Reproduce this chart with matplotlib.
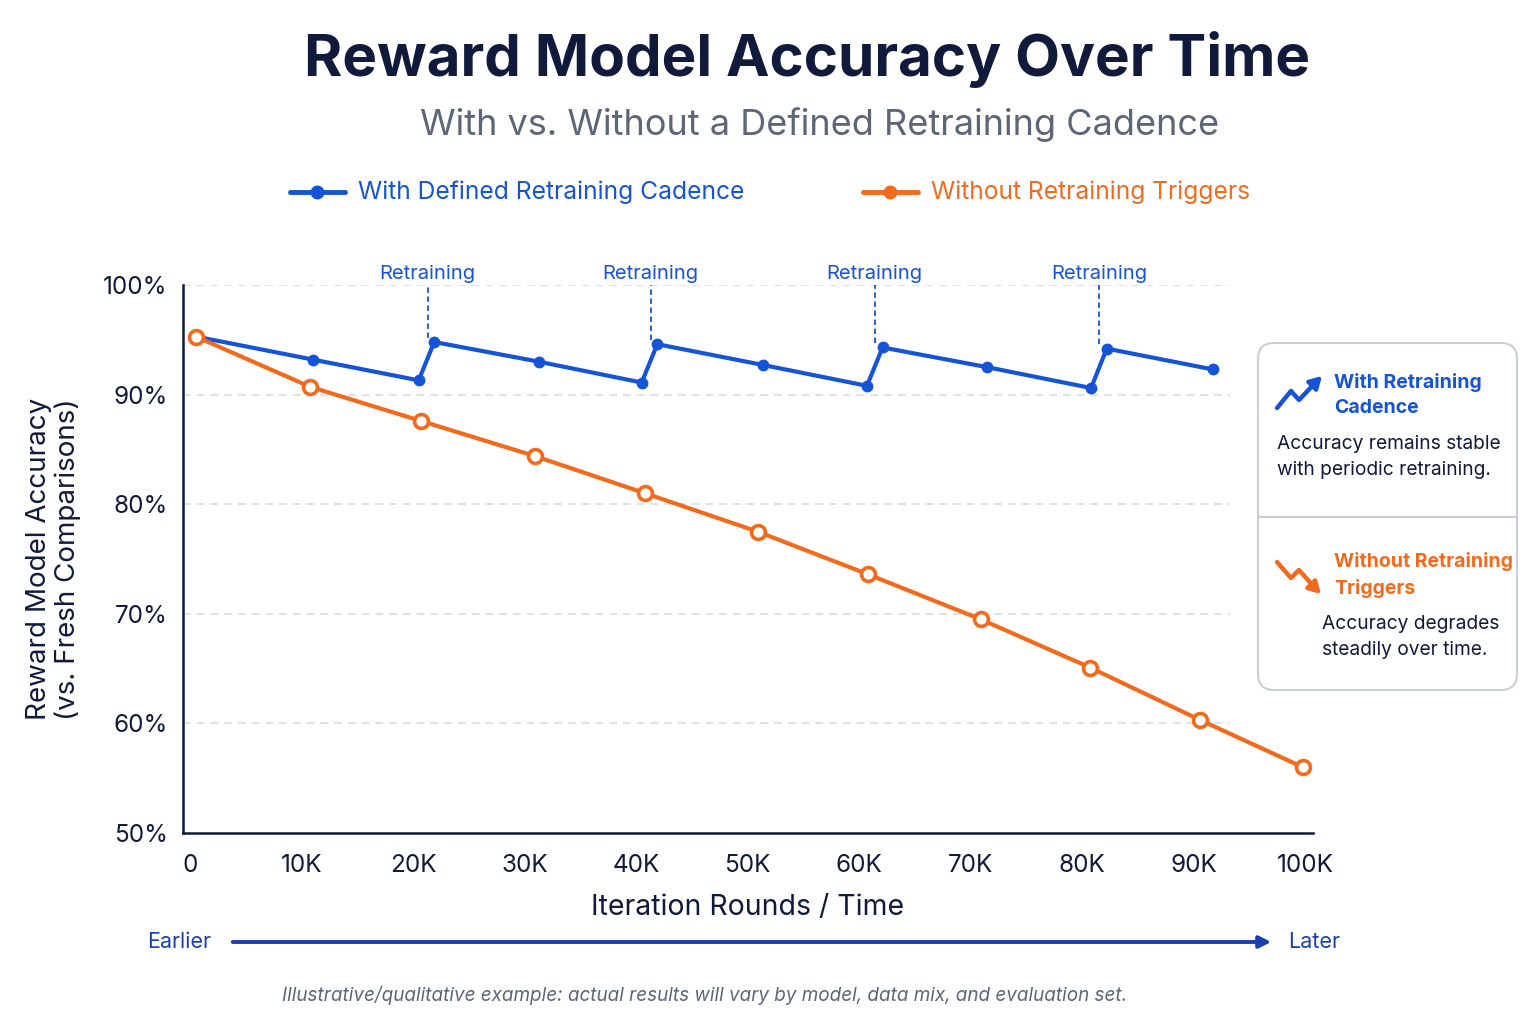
import matplotlib
matplotlib.use('Agg')
import matplotlib.pyplot as plt
from matplotlib.patches import FancyBboxPatch

plt.rcParams['font.family'] = ['Inter', 'DejaVu Sans']

# iteration rounds (thousands) and accuracy (%)
with_x = [0.5, 11.0, 20.5, 21.9, 31.3, 40.5, 41.9, 51.4, 60.7, 62.1, 71.5, 80.8, 82.2, 91.7]
with_y = [95.3, 93.2, 91.3, 94.8, 93.0, 91.1, 94.6, 92.7, 90.8, 94.3, 92.5, 90.6, 94.2, 92.3]

without_x = [0.5, 10.8, 20.7, 30.9, 40.8, 50.9, 60.8, 70.9, 80.7, 90.6, 99.8]
without_y = [95.3, 90.7, 87.6, 84.4, 81.0, 77.5, 73.6, 69.5, 65.1, 60.3, 56.0]

retrain_x = [21.3, 41.3, 61.4, 81.5]
retrain_peak = [94.8, 94.6, 94.3, 94.2]

xticks = [0, 10, 20, 30, 40, 50, 60, 70, 80, 90, 100]
xtick_labels = ['0', '10K', '20K', '30K', '40K', '50K', '60K', '70K', '80K', '90K', '100K']
yticks = [50, 60, 70, 80, 90, 100]

BLUE = '#1554d6'
ORANGE = '#f26a1b'
NAVY = '#101a3a'
GRAY = '#5d6678'

fig = plt.figure(figsize=(15.36, 10.24), dpi=100)
fig.patch.set_facecolor('white')

ax = fig.add_axes([183 / 1536, 1 - 833 / 1024, 1130 / 1536, 548 / 1024])
ax.set_xlim(-0.63, 100.7)
ax.set_ylim(50, 100)

# grid lines (stop before callout box)
for y in yticks[1:]:
    ax.axhline(y, xmin=0, xmax=(1230 - 183) / 1130, color='#d5d9e0', lw=1.1,
               ls=(0, (5, 4)), zorder=0)

ax.plot(with_x, with_y, color=BLUE, lw=3, marker='o', ms=7.5,
        markerfacecolor=BLUE, markeredgecolor=BLUE, zorder=3)
ax.plot(without_x, without_y, color=ORANGE, lw=3, marker='o', ms=10,
        markerfacecolor='white', markeredgecolor=ORANGE, markeredgewidth=2.6, zorder=4)

for rx, pk in zip(retrain_x, retrain_peak):
    ax.plot([rx, rx], [pk + 0.4, 100], color=BLUE, lw=1.3, ls=(0, (3, 2)), zorder=2)
    ax.text(rx, 100.15, 'Retraining', color=BLUE, fontsize=14.5, ha='center', va='bottom')

ax.set_xticks(xticks)
ax.set_xticklabels(xtick_labels)
ax.set_yticks(yticks)
ax.set_yticklabels(['%d%%' % v for v in yticks])
ax.tick_params(length=0, labelsize=17.5, labelcolor=NAVY)
ax.tick_params(axis='y', pad=11)
ax.tick_params(axis='x', pad=15)
for s in ['top', 'right']:
    ax.spines[s].set_visible(False)
for s in ['left', 'bottom']:
    ax.spines[s].set_color(NAVY)
    ax.spines[s].set_linewidth(1.8)

ax.set_xlabel('Iteration Rounds / Time', fontsize=20.5, color=NAVY, labelpad=12)
ax.set_ylabel('Reward Model Accuracy\n(vs. Fresh Comparisons)', fontsize=20,
              color=NAVY, labelpad=16, linespacing=1.1)

# overlay in pixel coordinates for annotations
ov = fig.add_axes([0, 0, 1, 1], zorder=5)
ov.set_xlim(0, 1536)
ov.set_ylim(1024, 0)
ov.axis('off')
ov.patch.set_alpha(0)

ov.text(807, 60, 'Reward Model Accuracy Over Time', fontsize=42, fontweight='bold',
        color=NAVY, ha='center', va='center')
ov.text(820, 125, 'With vs. Without a Defined Retraining Cadence', fontsize=26,
        color=GRAY, ha='center', va='center')

# legend
ov.plot([290, 345], [192, 192], color=BLUE, lw=3.5, solid_capstyle='round')
ov.plot([317], [192], 'o', color=BLUE, ms=9)
ov.text(358, 192, 'With Defined Retraining Cadence', fontsize=17.7, color=BLUE,
        ha='left', va='center')
ov.plot([863, 918], [192, 192], color=ORANGE, lw=3.5, solid_capstyle='round')
ov.plot([890], [192], 'o', color=ORANGE, ms=9)
ov.text(931, 192, 'Without Retraining Triggers', fontsize=17.7, color=ORANGE,
        ha='left', va='center')

# callout box
box = FancyBboxPatch((1258, 343), 259, 347, boxstyle='round,pad=0,rounding_size=16',
                     facecolor='white', edgecolor='#c9ced8', lw=1.5)
ov.add_patch(box)
ov.plot([1258, 1517], [517, 517], color='#c9ced8', lw=1.5)

ov.plot([1277, 1291, 1299, 1316], [408, 391, 400, 382], color=BLUE, lw=3.2,
        solid_capstyle='round', solid_joinstyle='round')
ov.annotate('', xy=(1324, 374), xytext=(1309, 389),
            arrowprops=dict(arrowstyle='-|>,head_length=0.7,head_width=0.4', color=BLUE, lw=3))
ov.text(1334, 395, 'With Retraining\nCadence', fontsize=14, fontweight='bold', color=BLUE,
        ha='left', va='center', linespacing=1.5)
ov.text(1277, 457, 'Accuracy remains stable\nwith periodic retraining.', fontsize=13.8,
        color=NAVY, ha='left', va='center', linespacing=1.55)

ov.plot([1277, 1291, 1299, 1315], [562, 578, 570, 588], color=ORANGE, lw=3.2,
        solid_capstyle='round', solid_joinstyle='round')
ov.annotate('', xy=(1323, 596), xytext=(1308, 581),
            arrowprops=dict(arrowstyle='-|>,head_length=0.7,head_width=0.4', color=ORANGE, lw=3))
ov.text(1334, 575, 'Without Retraining\nTriggers', fontsize=14, fontweight='bold',
        color=ORANGE, ha='left', va='center', linespacing=1.5)
ov.text(1322, 637, 'Accuracy degrades\nsteadily over time.', fontsize=13.8,
        color=NAVY, ha='left', va='center', linespacing=1.55)

# time arrow
ov.text(211, 942, 'Earlier', fontsize=15.5, color='#1a3fb0', ha='right', va='center')
ov.annotate('', xy=(1274, 942), xytext=(230, 942),
            arrowprops=dict(arrowstyle='-|>,head_length=0.7,head_width=0.35',
                            color='#1a3fb0', lw=2.8))
ov.text(1288, 942, 'Later', fontsize=15.5, color='#1a3fb0', ha='left', va='center')

ov.text(705, 995, 'Illustrative/qualitative example: actual results will vary by model, '
        'data mix, and evaluation set.', fontsize=13.6, style='italic', color=GRAY,
        ha='center', va='center')

fig.savefig('out.png', dpi=100, facecolor='white')
